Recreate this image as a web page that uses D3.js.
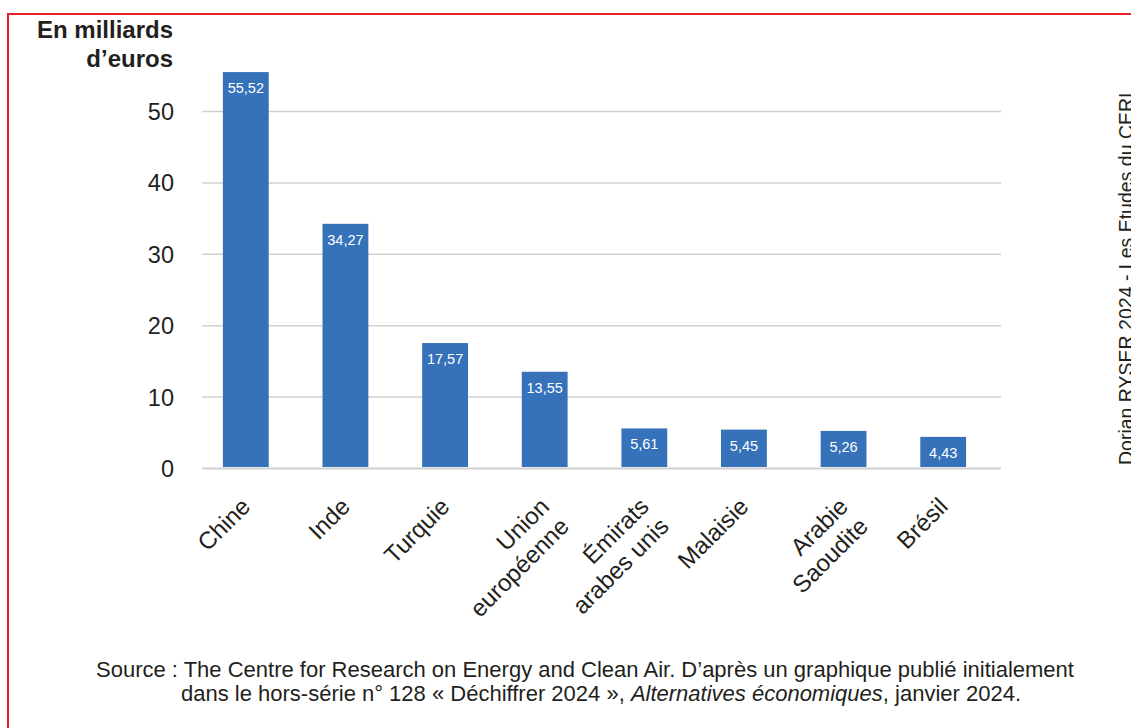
<!DOCTYPE html>
<html>
<head>
<meta charset="utf-8">
<script src="https://cdn.jsdelivr.net/npm/d3@7"></script>
<style>
  html, body { margin: 0; padding: 0; background: #ffffff; }
  svg { display: block; }
  text { font-family: "Liberation Sans", Arial, sans-serif; }
</style>
</head>
<body>
<svg id="chart" width="1131" height="728"></svg>
<script>
// ---- Data ----
const categories = [
  ["Chine"],
  ["Inde"],
  ["Turquie"],
  ["Union", "européenne"],
  ["Émirats", "arabes unis"],
  ["Malaisie"],
  ["Arabie", "Saoudite"],
  ["Brésil"]
];
const values = [55.52, 34.27, 17.57, 13.55, 5.61, 5.45, 5.26, 4.43];
const yTicks = [0, 10, 20, 30, 40, 50];
const titleLines = ["En milliards", "d’euros"];
const credit = "Dorian RYSER 2024 - Les Etudes du CERI";
const sourceLine1 = "Source : The Centre for Research on Energy and Clean Air. D’après un graphique publié initialement";
const sourceLine2a = "dans le hors-série n° 128 « Déchiffrer 2024 », ";
const sourceLine2b = "Alternatives économiques";
const sourceLine2c = ", janvier 2024.";

// ---- Layout ----
const svg = d3.select("#chart");
const textColor = "#231f20";
const barColor = "#3572b9";
const gridColor = "#d0d0d0";

const labels = categories.map(c => c.join(" "));
const x = d3.scaleBand().domain(labels).range([196, 993]).paddingInner(0.54).paddingOuter(0.27);
const y = d3.scaleLinear().domain([0, 50]).range([468.5, 111.5]);

// red frame
svg.append("path")
  .attr("d", "M8,740 V14 H1135")
  .attr("fill", "none")
  .attr("stroke", "#e8202a")
  .attr("stroke-width", 2);

// gridlines
svg.append("g").selectAll("line").data(yTicks).join("line")
  .attr("x1", 202).attr("x2", 1001)
  .attr("y1", d => y(d)).attr("y2", d => y(d))
  .attr("stroke", gridColor)
  .attr("stroke-width", d => d === 0 ? 2 : 1.5);

// y tick labels
svg.append("g").selectAll("text").data(yTicks).join("text")
  .attr("x", 174).attr("y", d => y(d))
  .attr("dy", "0.36em")
  .attr("text-anchor", "end")
  .attr("font-size", 23.5)
  .attr("fill", textColor)
  .text(d => d);

// title
svg.append("g").selectAll("text").data(titleLines).join("text")
  .attr("x", 173).attr("y", (d, i) => 38 + i * 29)
  .attr("text-anchor", "end")
  .attr("font-size", 24)
  .attr("font-weight", "bold")
  .attr("fill", textColor)
  .text(d => d);

// bars
const bw = x.bandwidth();
svg.append("g").selectAll("rect").data(values).join("rect")
  .attr("x", (d, i) => x(labels[i]))
  .attr("y", d => y(d))
  .attr("width", bw)
  .attr("height", d => y(0) - 1.5 - y(d))
  .attr("fill", barColor);

// value labels
svg.append("g").selectAll("text").data(values).join("text")
  .attr("x", (d, i) => x(labels[i]) + bw / 2)
  .attr("y", d => y(d) + 21)
  .attr("text-anchor", "middle")
  .attr("font-family", "'Open Sans', 'Noto Sans', sans-serif")
  .attr("font-size", 14.5)
  .attr("fill", "#ffffff")
  .text(d => d.toFixed(2).replace(".", ","));

// category labels, rotated
const catG = svg.append("g");
categories.forEach((lines, i) => {
  const cx = x(labels[i]) + bw / 2;
  const t = catG.append("text")
    .attr("transform", `translate(${cx + 6},${508}) rotate(-45)`)
    .attr("text-anchor", "end")
    .attr("font-size", 24)
    .attr("fill", textColor);
  lines.forEach((l, j) => {
    t.append("tspan").attr("x", 0).attr("y", j * 28).text(l);
  });
});

// vertical credit
svg.append("text")
  .attr("transform", "translate(1133,465) rotate(-90)")
  .attr("font-size", 19.5)
  .attr("fill", textColor)
  .text(credit);

// source
const s1 = svg.append("text")
  .attr("x", 96).attr("y", 677)
  .attr("font-size", 19)
  .attr("fill", textColor)
  .text(sourceLine1);
const w1 = s1.node().getComputedTextLength();
const fs = 19 * 978 / w1;
s1.attr("font-size", fs);

const s2 = svg.append("text")
  .attr("x", 181).attr("y", 701)
  .attr("font-size", fs)
  .attr("fill", textColor);
s2.append("tspan").text(sourceLine2a);
s2.append("tspan").attr("font-style", "italic").text(sourceLine2b);
s2.append("tspan").text(sourceLine2c);
</script>
</body>
</html>
